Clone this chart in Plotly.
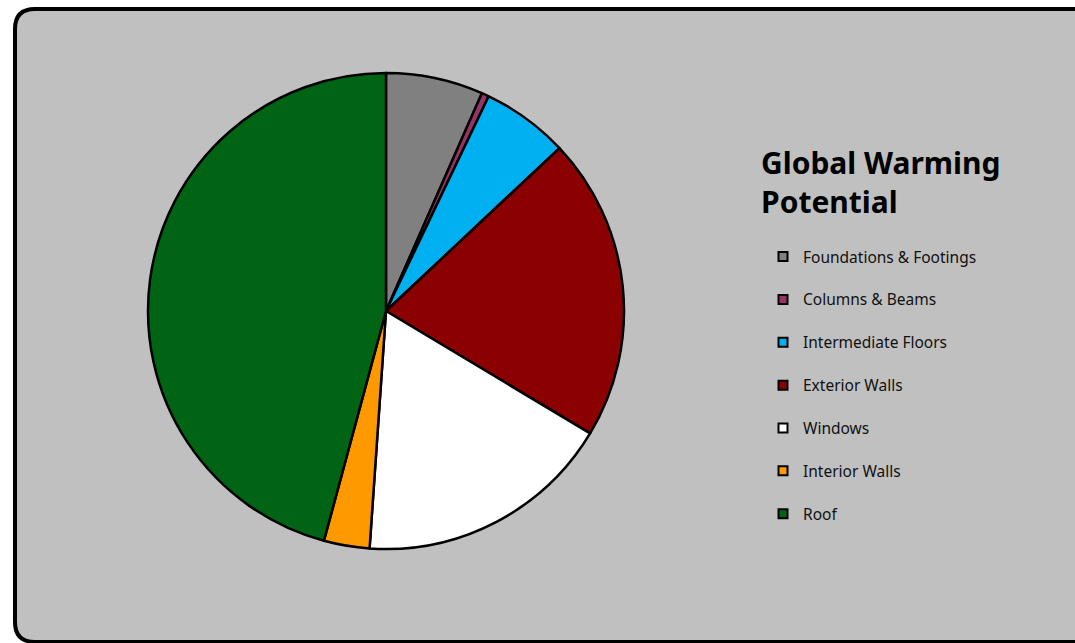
import plotly.graph_objects as go

W, H = 1075, 643

labels = ["Foundations & Footings", "Columns & Beams", "Intermediate Floors",
          "Exterior Walls", "Windows", "Interior Walls", "Roof"]
values = [6.6, 0.5, 5.9, 20.6, 17.5, 3.1, 45.8]
colors = ["#808080", "#993366", "#00B0F0", "#8B0000", "#FFFFFF", "#FF9900", "#006414"]
title_text = "Global Warming<br>Potential"


def px(x):
    return x / W


def py(y):
    return 1 - y / H


fig = go.Figure()

fig.add_trace(go.Pie(
    labels=labels, values=values, sort=False, direction="clockwise", rotation=0,
    marker=dict(colors=colors, line=dict(color="black", width=2.5)),
    textinfo="none", hoverinfo="label+percent", showlegend=False,
    domain=dict(x=[px(148), px(624)], y=[py(549), py(73)]),
))

for lab, col in zip(labels, colors):
    fig.add_trace(go.Scatter(
        x=[None], y=[None], mode="markers", name=lab, legendgroup=lab,
        marker=dict(symbol="square", size=9, color=col, line=dict(color="black", width=2)),
    ))

# rounded background panel
L, T, R, B, r = 15, 9, 1095, 642, 20
path = (f"M {px(L + r)},{py(T)} L {px(R)},{py(T)} L {px(R)},{py(B)} L {px(L + r)},{py(B)} "
        f"Q {px(L)},{py(B)} {px(L)},{py(B - r)} L {px(L)},{py(T + r)} "
        f"Q {px(L)},{py(T)} {px(L + r)},{py(T)} Z")

fig.update_layout(
    width=W, height=H,
    margin=dict(l=0, r=0, t=0, b=0, pad=0),
    paper_bgcolor="white", plot_bgcolor="rgba(0,0,0,0)",
    xaxis=dict(visible=False), yaxis=dict(visible=False),
    font=dict(family="Noto Sans", size=16, color="black"),
    shapes=[dict(type="path", xref="paper", yref="paper", path=path,
                 fillcolor="#C0C0C0", line=dict(color="black", width=4), layer="below")],
    annotations=[dict(
        text=title_text, xref="paper", yref="paper", x=px(759), y=py(140),
        xanchor="left", yanchor="top", align="left", showarrow=False,
        font=dict(family="Noto Sans", size=30, color="black", weight="bold"),
    )],
    legend=dict(
        x=px(763), y=py(240), xanchor="left", yanchor="top",
        bgcolor="rgba(0,0,0,0)", borderwidth=0,
        font=dict(family="Noto Sans", size=15.5, color="#111111"),
        tracegroupgap=19.7, itemclick=False,
    ),
)

fig.write_html("out.html", config={"displayModeBar": False},
               post_script="document.body.style.margin='0';document.body.style.overflow='hidden';")
